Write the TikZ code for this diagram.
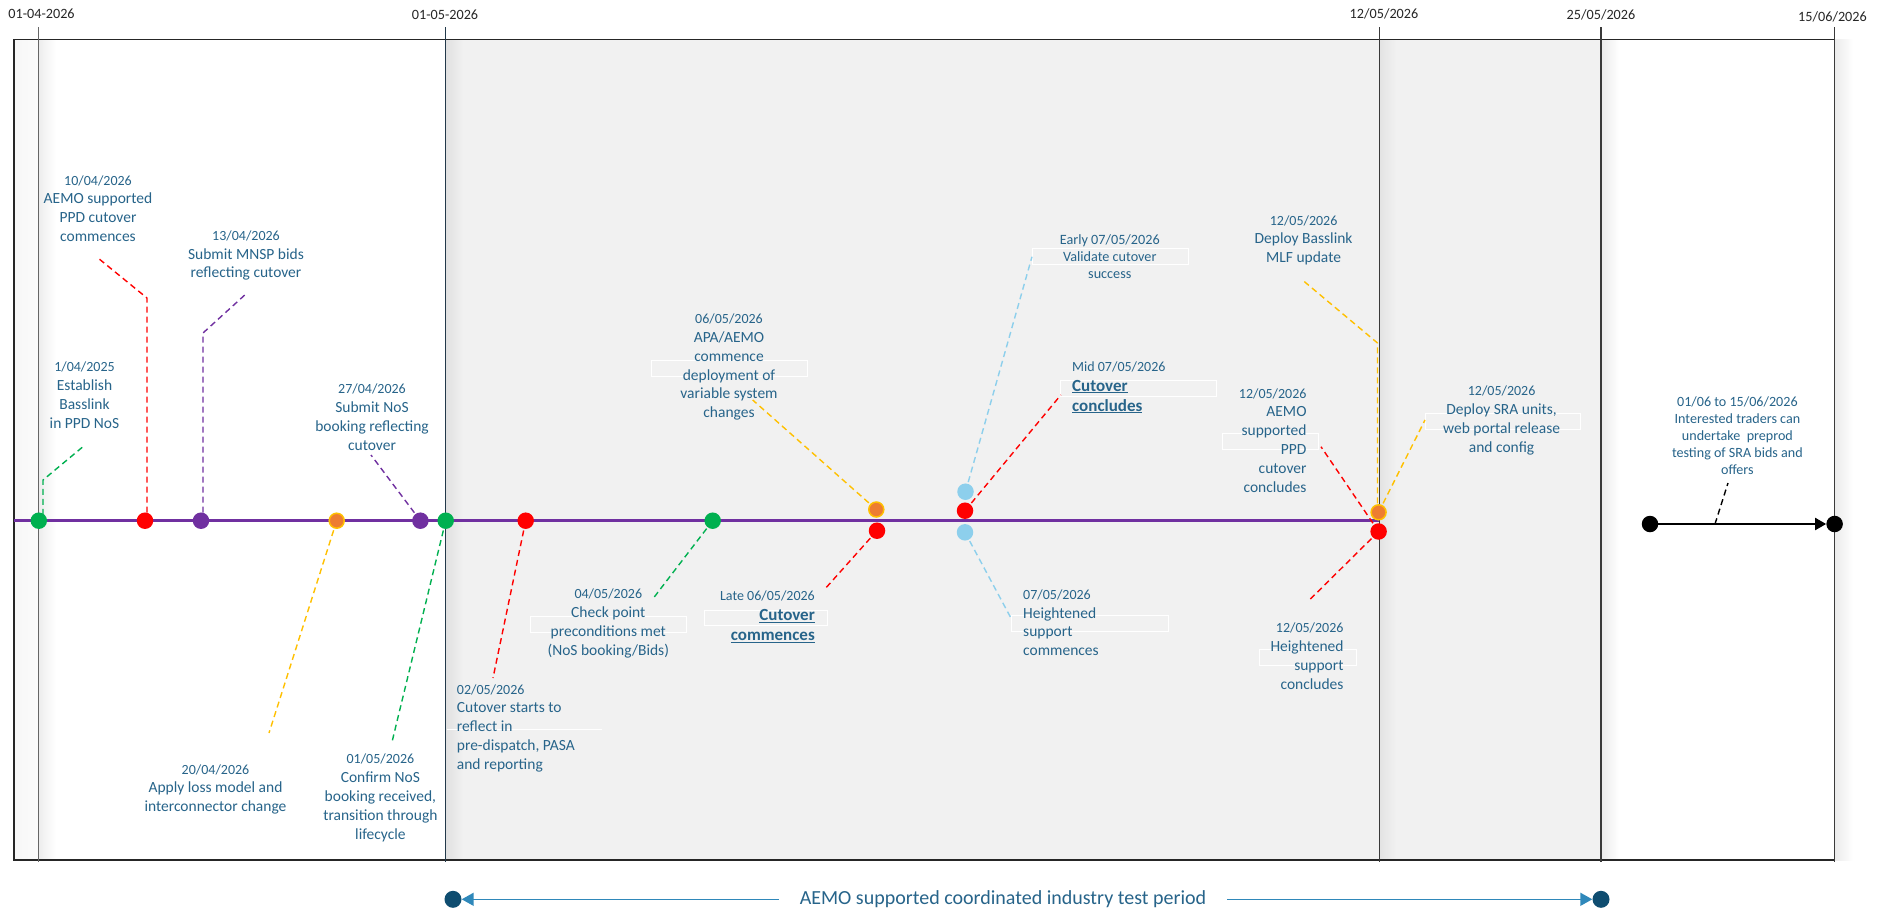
\documentclass[tikz,border=0pt]{standalone}
\usepackage{fontspec}
\setmainfont{Carlito}
\usetikzlibrary{arrows.meta}
\pgfdeclarelayer{bg}
\pgfdeclarelayer{mid}
\pgfsetlayers{bg,mid,main}
\definecolor{tealtxt}{HTML}{27648A}
\definecolor{pgray}{HTML}{F1F1F1}
\definecolor{cgreen}{HTML}{00B050}
\definecolor{cred}{HTML}{FF0000}
\definecolor{cpurple}{HTML}{7030A0}
\definecolor{corange}{HTML}{ED7D31}
\definecolor{cyellow}{HTML}{FFC000}
\definecolor{cltblue}{HTML}{8DCFEC}
\definecolor{navydot}{HTML}{0F4D70}
\definecolor{arrowblue}{HTML}{2F88BA}
\definecolor{vline}{HTML}{3A3A3A}
\definecolor{vlinedark}{HTML}{22394A}
\newcommand\dte[1]{{\fontsize{14}{18.8}\selectfont #1}}
\newcommand\bu[1]{{\bfseries\fontsize{17}{20}\selectfont\underline{#1}}}
\tikzset{
  lbl/.style={text=tealtxt, font=\fontsize{15.5}{18.8}\selectfont, inner sep=0pt, align=center},
  topdate/.style={text=black!85, font=\fontsize{14.2}{17}\selectfont, inner sep=0pt},
  dotbase/.style={circle, minimum size=16.5pt, inner sep=0pt},
  gdot/.style={dotbase, fill=cgreen},
  rdot/.style={dotbase, fill=cred},
  pdot/.style={dotbase, fill=cpurple},
  odot/.style={dotbase, fill=corange, draw=cyellow, line width=1.5pt, minimum size=15pt},
  bdot/.style={dotbase, fill=cltblue},
  kdot/.style={dotbase, fill=black},
  ndot/.style={dotbase, fill=navydot, minimum size=17pt},
  lead/.style={dash pattern=on 6pt off 4pt, line width=1.4pt},
  vl/.style={vline, line width=1.2pt},
  wbox/.style={white, line width=1pt},
}
\begin{document}
\begin{tikzpicture}[x=1pt,y=-1pt]
\useasboundingbox (0,0) rectangle (1883,911);

% ---------- background ----------
\begin{pgfonlayer}{bg}
\fill[white] (0,0) rectangle (1883,911);
\fill[pgray] (445.7,39.5) rectangle (1601,860);
\shade[left color=black!3, right color=black!1.5] (14,39.5) rectangle (38.8,860);
\shade[left color=black!7, right color=white] (38.8,39.5) rectangle (56,860);
\shade[left color=black!12, right color=pgray] (445.7,39.5) rectangle (463,860);
\shade[left color=black!11, right color=pgray] (1379.4,39.5) rectangle (1396,860);
\shade[left color=black!8, right color=white] (1601,39.5) rectangle (1619,860);
\shade[left color=black!8, right color=white] (1834.6,39.5) rectangle (1853,860);
% white text-box outlines
\draw[wbox] (530.7,616) rectangle (686.7,632.7);
\draw[wbox] (704.5,610) rectangle (827,625);
\draw[wbox] (651.4,360.3) rectangle (807.8,376.3);
\draw[wbox] (1032,248.3) rectangle (1188.6,264.3);
\draw[wbox] (1060.8,380.3) rectangle (1216.7,396.3);
\draw[wbox] (1011.8,615) rectangle (1168,631);
\draw[wbox] (1222.3,433.3) rectangle (1318.7,449.3);
\draw[wbox] (1425.4,413.3) rectangle (1580.4,429.3);
\draw[wbox] (1259.3,649.3) rectangle (1356,665);
\draw[wbox] (446.5,729.3) -- (601.7,729.3);
% frame
\draw[black!85, line width=1.5pt] (14,39.5) rectangle (1834.6,860);
\end{pgfonlayer}

% ---------- vertical date lines ----------
\coordinate (v1t) at (38.8,27);   \coordinate (v1b) at (38.8,862);
\coordinate (v2t) at (445.7,27);  \coordinate (v2b) at (445.7,862);
\coordinate (v3t) at (1379.4,27); \coordinate (v3b) at (1379.4,862);
\coordinate (v4t) at (1601,27);   \coordinate (v4b) at (1601,862);
\coordinate (v5t) at (1834.6,27); \coordinate (v5b) at (1834.6,862);
\begin{pgfonlayer}{bg}
\draw[vl, black!60] (v1t) -- (v1b);
\draw[vlinedark, line width=1.5pt] (v2t) -- (v2b);
\draw[vl] (v3t) -- (v3b);
\draw[vl] (v4t) -- (v4b);
\draw[vl] (v5t) -- (v5b);
\end{pgfonlayer}

\node[topdate] (h1) at (41.5,13.5) {01-04-2026};
\node[topdate] (h2) at (445,14.3) {01-05-2026};
\node[topdate] (h3) at (1384,14.3) {12/05/2026};
\node[topdate] (h4) at (1601,15.3) {25/05/2026};
\node[topdate] (h5) at (1832.5,16.7) {15/06/2026};

% ---------- timeline ----------
\coordinate (t0) at (14,520.7);
\coordinate (t1) at (1378.6,520.7);

\node[gdot] (d1) at (38.8,520.7) {};
\node[rdot] (d2) at (145,520.7) {};
\node[pdot] (d3) at (201,520.7) {};
\node[odot] (d4) at (336.7,520.7) {};
\node[pdot] (d5) at (420.4,520.7) {};
\node[gdot] (d6) at (445.7,520.7) {};
\node[rdot] (d7) at (525.7,520.7) {};
\node[gdot] (d8) at (712.7,520.7) {};
\node[odot] (d9) at (876.3,509.5) {};
\node[rdot] (d10) at (877,530.7) {};
\node[bdot] (d11) at (965.5,491.7) {};
\node[rdot] (d12) at (965,510.7) {};
\node[bdot] (d13) at (965,532.3) {};
\node[odot] (d14) at (1378.6,512.3) {};
\node[rdot] (d15) at (1378.6,531.5) {};

% leader end points
\coordinate (c1a) at (43,480);    \coordinate (c1b) at (85,445);
\coordinate (c2a) at (147,298);   \coordinate (c2b) at (98,258);
\coordinate (c3a) at (203,333);   \coordinate (c3b) at (247,293);
\coordinate (c4) at (269,733);
\coordinate (c5) at (371,455);
\coordinate (c6) at (392,742);
\coordinate (c7) at (493,678);
\coordinate (c8) at (653.5,598);
\coordinate (c9) at (752.7,400);
\coordinate (c10) at (824,590);
\coordinate (c11) at (1032,256.7);
\coordinate (c12) at (1060.8,395);
\coordinate (c13) at (1012,620);
\coordinate (c14a) at (1377.5,343); \coordinate (c14b) at (1303.6,281);
\coordinate (c15) at (1425,420);
\coordinate (c16) at (1321,446.7);
\coordinate (c17) at (1307.7,601.7);
\coordinate (c18a) at (1715,524); \coordinate (c18b) at (1728,483);

\begin{pgfonlayer}{mid}
\draw[cpurple, line width=3pt] (t0) -- (t1);
\draw[lead, cgreen] (d1.center) -| (c1a) -- (c1b);
\draw[lead, cred] (d2.center) -| (c2a) -- (c2b);
\draw[lead, cpurple] (d3.center) -| (c3a) -- (c3b);
\draw[lead, cyellow] (d4.center) -- (c4);
\draw[lead, cpurple] (d5.center) -- (c5);
\draw[lead, cgreen] (d6.center) -- (c6);
\draw[lead, cred] (d7.center) -- (c7);
\draw[lead, cgreen] (d8.center) -- (c8);
\draw[lead, cyellow] (d9.center) -- (c9);
\draw[lead, cred] (d10.center) -- (c10);
\draw[lead, cltblue] (d11.center) -- (c11);
\draw[lead, cred] (d12.center) -- (c12);
\draw[lead, cltblue] (d13.center) -- (c13);
\draw[lead, cyellow] (d14.center) -| (c14a) -- (c14b);
\draw[lead, cyellow] (d14.center) -- (c15);
\draw[lead, cred] (d15.center) -- (c16);
\draw[lead, cred] (d15.center) -- (c17);
\draw[lead, black] (c18a) -- (c18b);
\end{pgfonlayer}

% ---------- black arrow (01/06 to 15/06) ----------
\node[kdot] (k1) at (1650,524) {};
\node[kdot] (k2) at (1834.6,524) {};
\draw[line width=2pt, -{Triangle[length=11pt,width=12pt]}] (k1) -- (k2);

% ---------- labels ----------
\node[lbl] (L1) at (98,208.5) {\dte{10/04/2026}\\AEMO supported\\PPD cutover\\commences};
\node[lbl] (L2) at (246,255.5) {\dte{13/04/2026}\\Submit MNSP bids\\reflecting cutover};
\node[lbl] (L3) at (84.5,395.3) {\dte{1/04/2025}\\Establish\\Basslink\\in PPD NoS};
\node[lbl] (L4) at (372,417) {\dte{27/04/2026}\\Submit NoS\\booking reflecting\\cutover};
\node[lbl] (L5) at (215.5,789.3) {\dte{20/04/2026}\\Apply loss model and\\interconnector change};
\node[lbl] (L6) at (380.4,797.8) {\dte{01/05/2026}\\Confirm NoS\\booking received,\\transition through\\lifecycle};
\node[lbl, align=left, anchor=west] (L7) at (456.7,728.2) {\dte{02/05/2026}\\Cutover starts to\\reflect in\\pre-dispatch, PASA\\and reporting};
\node[lbl] (L8) at (608.3,623.3) {\dte{04/05/2026}\\Check point\\preconditions met\\(NoS booking/Bids)};
\node[lbl, align=right, anchor=east, font=\fontsize{15.5}{20}\selectfont] (L9) at (815,616.7) {\dte{Late 06/05/2026}\\\bu{Cutover}\\\bu{commences}};
\node[lbl] (L10) at (729,367.2) {\dte{06/05/2026}\\APA/AEMO\\commence\\deployment of\\variable system\\changes};
\node[lbl, font=\fontsize{14.2}{17}\selectfont] (L11) at (1109.8,256.3) {Early 07/05/2026\\Validate cutover\\success};
\node[lbl, align=left, anchor=west, font=\fontsize{15.5}{20}\selectfont] (L12) at (1072,387.3) {\dte{Mid 07/05/2026}\\\bu{Cutover}\\\bu{concludes}};
\node[lbl, align=left, anchor=west] (L13) at (1023,622.7) {\dte{07/05/2026}\\Heightened\\support\\commences};
\node[lbl] (L14) at (1303.6,240.2) {\dte{12/05/2026}\\Deploy Basslink\\MLF update};
\node[lbl, align=right, anchor=east] (L15) at (1306.7,440.3) {\dte{12/05/2026}\\AEMO\\supported\\PPD\\cutover\\concludes};
\node[lbl] (L16) at (1501.6,420.5) {\dte{12/05/2026}\\Deploy SRA units,\\web portal release\\and config};
\node[lbl, font=\fontsize{14.1}{17}\selectfont] (L17) at (1737.4,436) {01/06 to 15/06/2026\\Interested traders can\\undertake\ \ preprod\\testing of SRA bids and\\offers};
\node[lbl, align=right, anchor=east] (L18) at (1343.7,656.2) {\dte{12/05/2026}\\Heightened\\support\\concludes};

% ---------- test period arrow ----------
\node[ndot] (a1) at (453,899.3) {};
\node[ndot] (a2) at (1601,899.3) {};
\draw[arrowblue, line width=1.5pt, {Triangle[length=12pt,width=13pt]}-{Triangle[length=12pt,width=13pt]}] (a1) -- (a2);
\node[fill=white, text=tealtxt, font=\fontsize{20}{24}\selectfont, inner xsep=21pt, inner ysep=3pt] (tp) at (1003,899.3) {AEMO supported coordinated industry test period};
\end{tikzpicture}
\end{document}
